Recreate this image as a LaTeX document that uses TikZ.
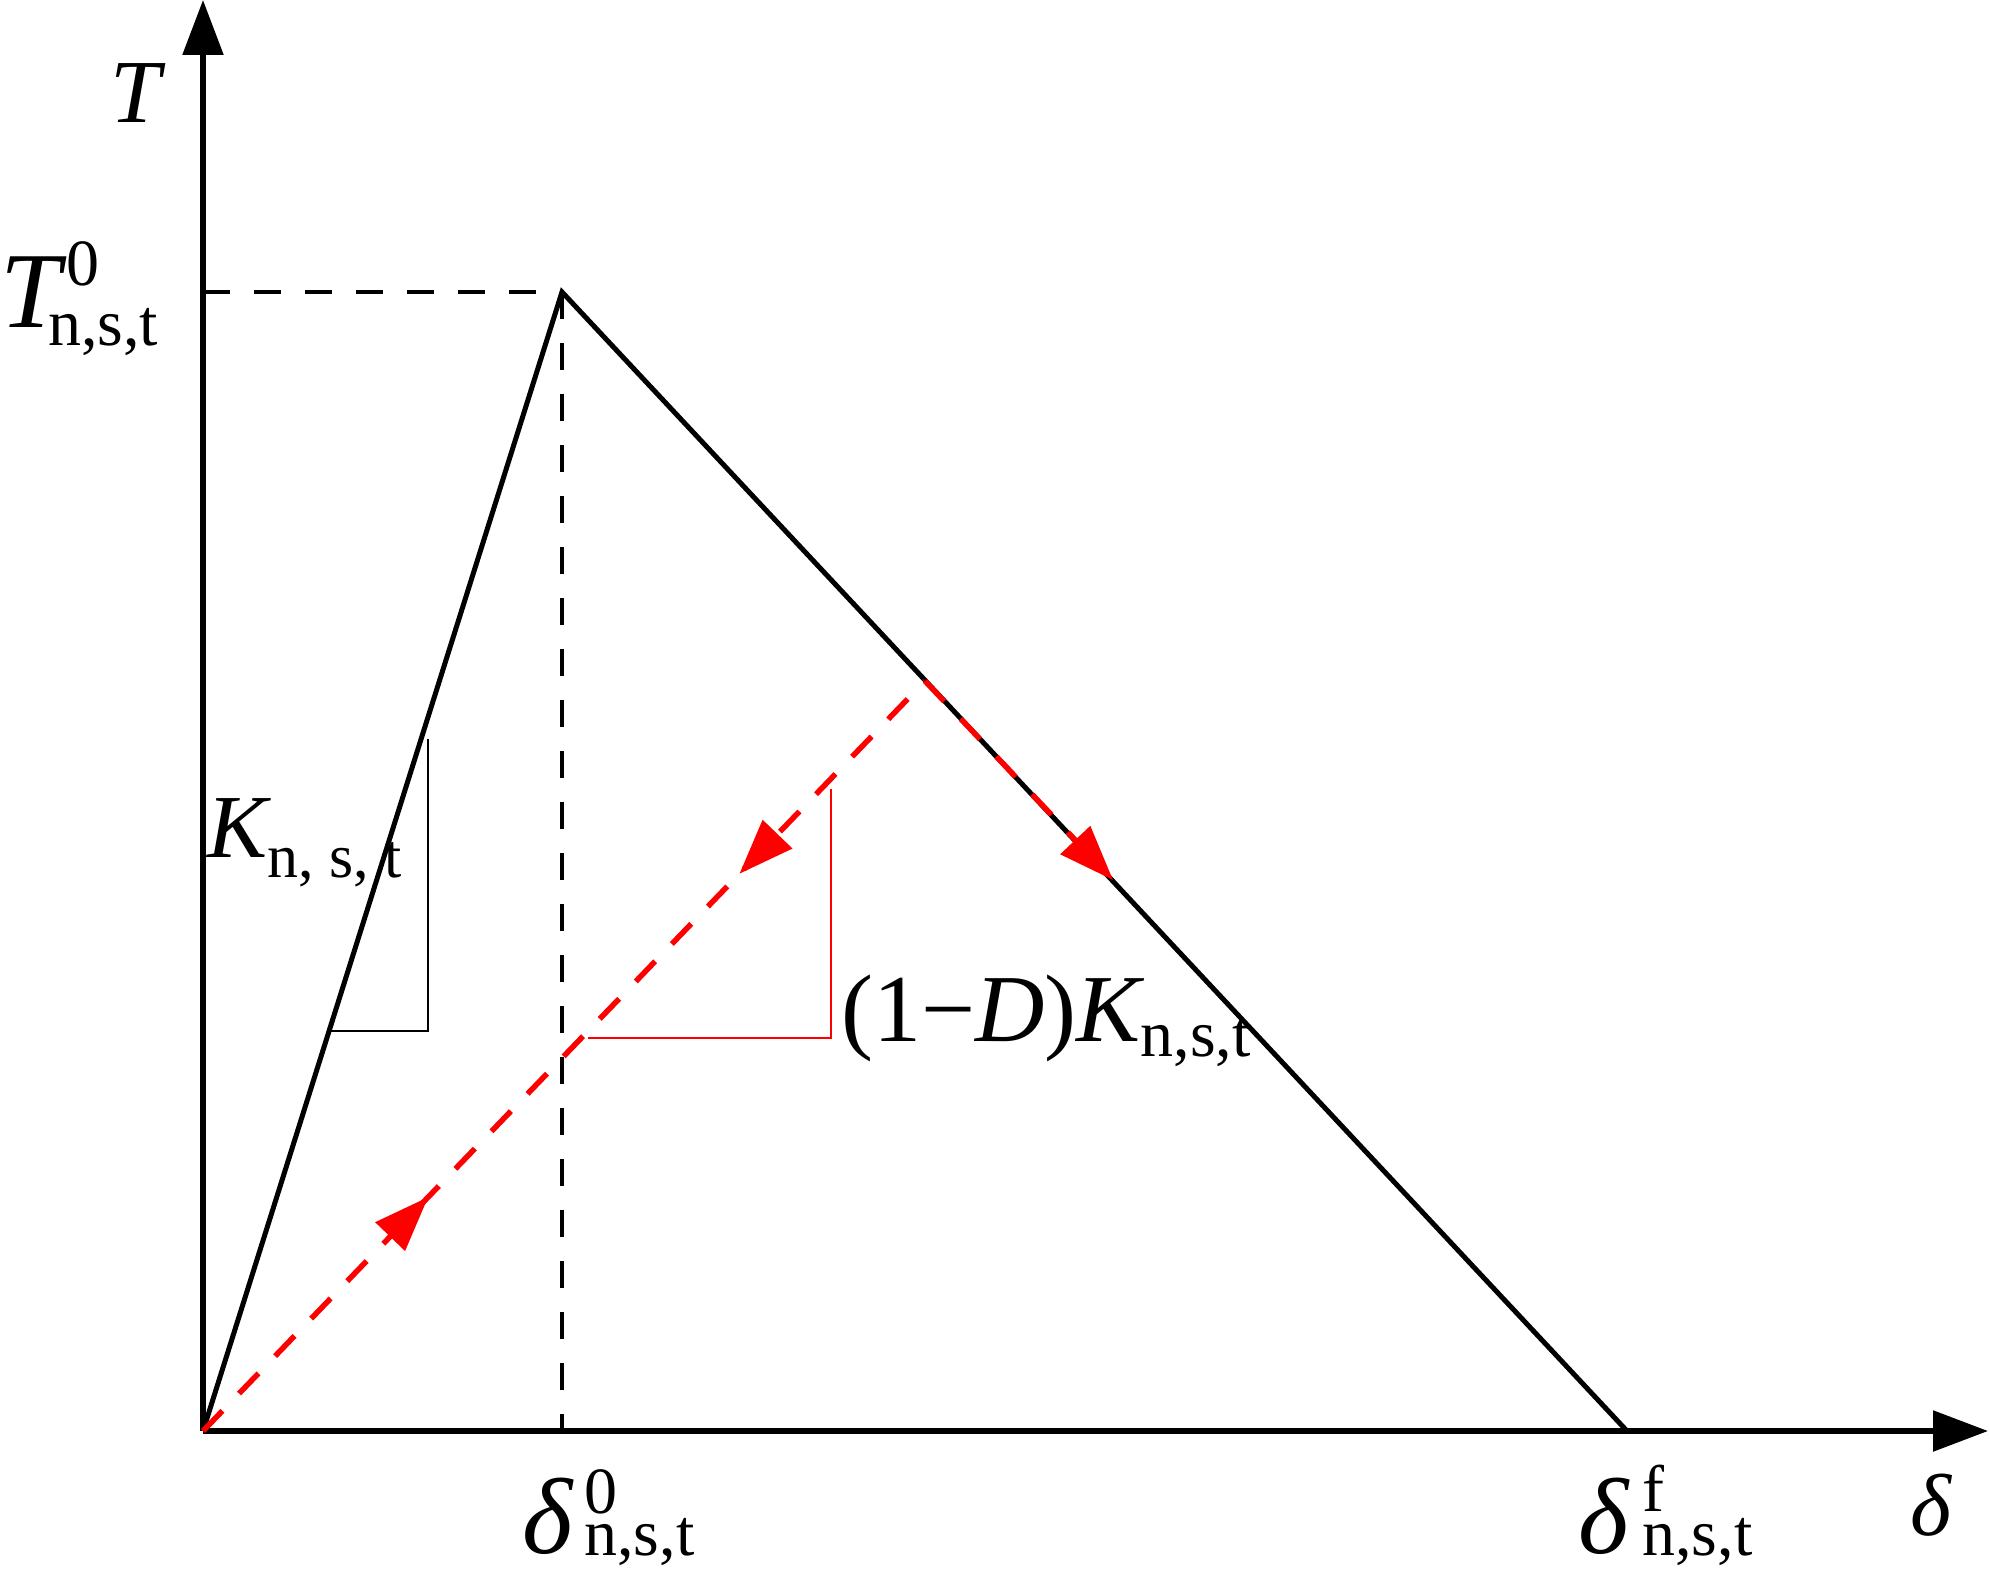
\documentclass[tikz,border=0pt]{standalone}
\usepackage{fontspec}
\setmainfont{Liberation Serif}
\usetikzlibrary{arrows.meta,decorations.markings}
\newcommand\mainsz{\fontsize{90}{100}\selectfont}
\newcommand\bigsz{\fontsize{108}{120}\selectfont}
\newcommand\midsz{\fontsize{96}{110}\selectfont}
\newcommand\subsz{\fontsize{66}{74}\selectfont}
\newcommand\ksubsz{\fontsize{62}{70}\selectfont}
% #1 sup kern, #2 sup raise, #3 sup, #4 sub kern, #5 sub lower, #6 sub
\newcommand\SupSub[6]{\rlap{\hspace{#1}\raisebox{#2}{\subsz #3}}\hspace{#4}\raisebox{-#5}{\subsz #6}}
\newcommand\SubOnly[2]{\raisebox{-#1}{\subsz #2}}
\begin{document}
\begin{tikzpicture}[x=1pt,y=-1pt,
  axis/.style={line width=5.5pt,-{Triangle[length=55pt,width=40pt]}},
  curve/.style={line width=5pt},
  blackdash/.style={line width=4.5pt,dash pattern=on 27pt off 24pt},
  reddash/.style={red,line width=5.5pt,dash pattern=on 28pt off 24pt},
  thinblack/.style={line width=2.5pt},
  thinred/.style={red,line width=2.5pt},
  redtip/.style={red,-{Triangle[length=55pt,width=40pt]}},
  lab/.style={anchor=base west,inner sep=0pt,font=\mainsz}]
\useasboundingbox (0,0) rectangle (1990,1573);
% key points
\coordinate (O) at (203,1431);
\coordinate (P) at (562,292);
\coordinate (F) at (1627,1431);
\coordinate (U) at (925,681);
\coordinate (A) at (1113,880);
\coordinate (Ytip) at (203,0);
\coordinate (Xtip) at (1988,1431);
\coordinate (PY) at (203,292);
\coordinate (PX) at (562,1431);
\coordinate (K1) at (331,1031);
\coordinate (K2) at (428,1031);
\coordinate (K3) at (428,739);
\coordinate (R1) at (588,1038);
\coordinate (R2) at (831,1038);
\coordinate (R3) at (831,789);
% axes
\draw[axis] (O) -- (Ytip);
\draw[axis] (O) -- (Xtip);
% dashed guide lines
\draw[blackdash] (PY) -- (P);
\draw[blackdash] (P) -- (PX);
% traction-separation law
\draw[curve,line join=miter] (O) -- (P) -- (F);
% slope triangle K
\draw[thinblack] (K1) -- (K2) -- (K3);
% unloading path
\draw[reddash,
  postaction={decorate,decoration={markings,
    mark=at position 0.312 with {\arrow{Triangle[length=55pt,width=40pt]}},
    mark=at position 0.743 with {\arrowreversed{Triangle[length=55pt,width=40pt]}}}}]
  (O) -- (U);
\draw[reddash,redtip] (U) -- (A);
% slope triangle (1-D)K
\draw[thinred] (R1) -- (R2) -- (R3);
% labels
\node[lab] (lT) at (110,123) {\itshape T};
\node[lab] (lT0) at (0,327) {{\bigsz\itshape T}\SupSub{6pt}{42pt}{0}{-12pt}{18pt}{n,s,t}};
\node[lab] (lK) at (207,857) {{\itshape K}\raisebox{-20pt}{\ksubsz n, s, t}};
\node[lab,font=\midsz] (lKD) at (841,1041) {(1−{\itshape D}){\itshape K}\SubOnly{15pt}{n,s,t}};
\node[lab] (ld0) at (522,1553) {{\bigsz\itshape δ}\SupSub{12pt}{40pt}{0}{12pt}{2pt}{n,s,t}};
\node[lab] (ldf) at (1578,1553) {{\bigsz\itshape δ}\SupSub{14pt}{42pt}{f}{14pt}{2pt}{n,s,t}};
\node[lab,font=\fontsize{88}{100}\selectfont] (ld) at (1910,1535) {\itshape δ};
\end{tikzpicture}
\end{document}
